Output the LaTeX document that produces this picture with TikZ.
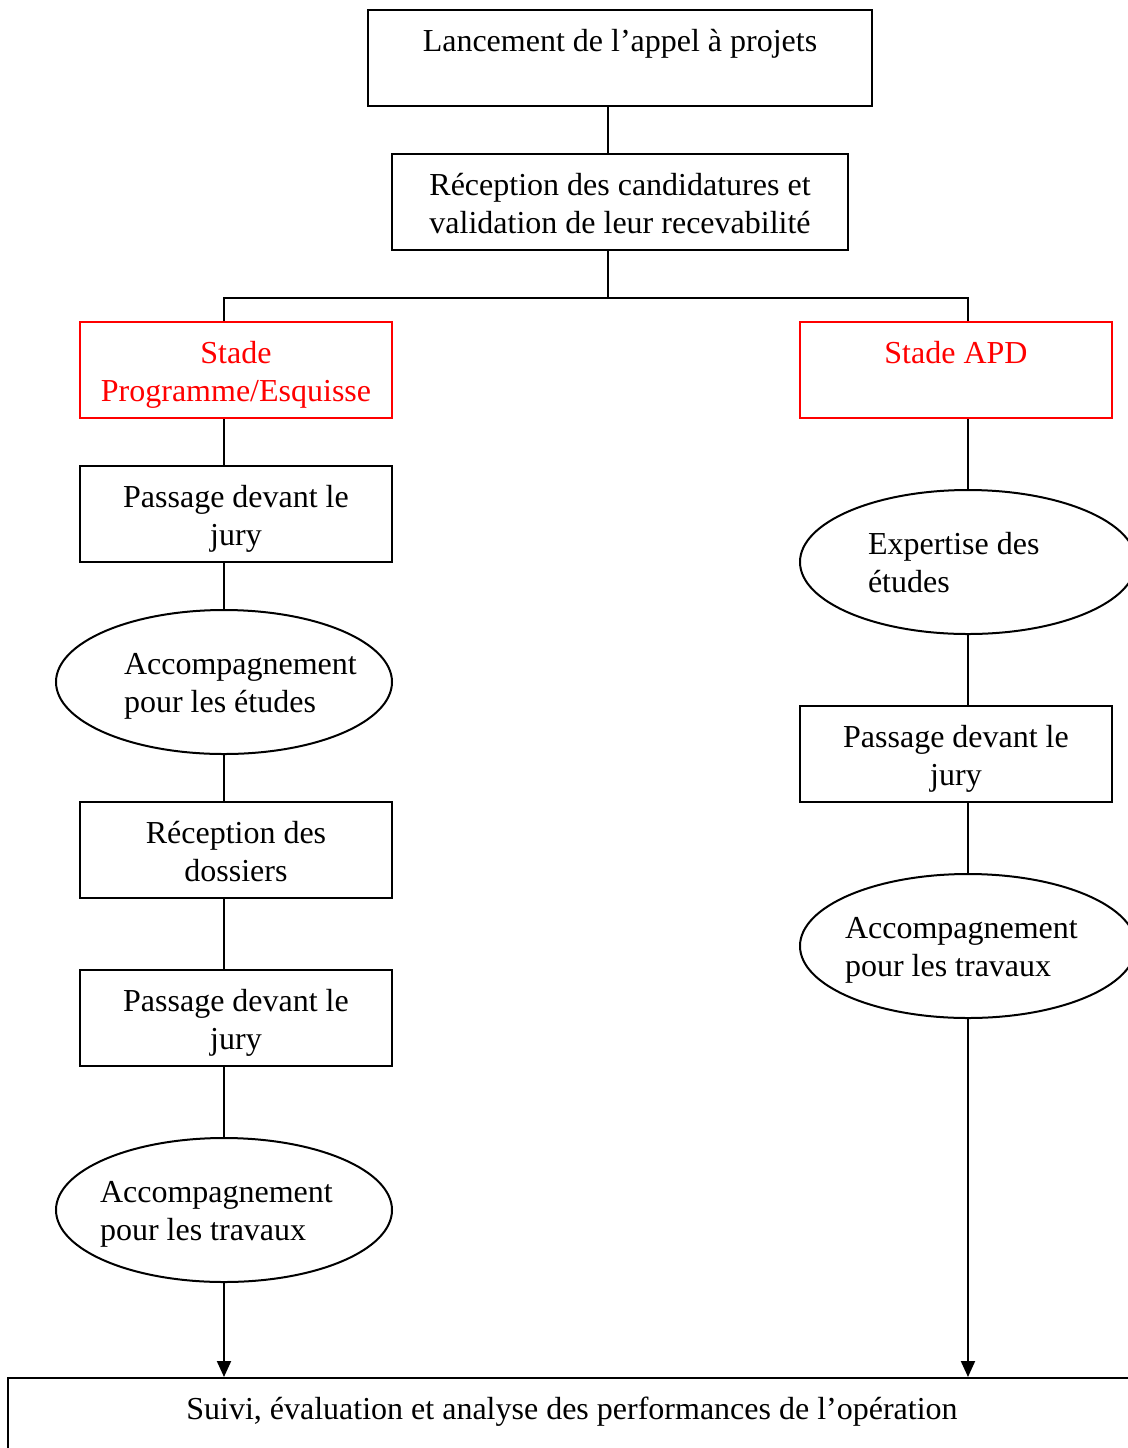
\documentclass[tikz,border=0pt]{standalone}
\usepackage{fontspec}
\setmainfont{Liberation Serif}
\usetikzlibrary{arrows.meta, shapes.geometric}

\begin{document}
\begin{tikzpicture}[x=0.5pt,y=-0.5pt,>={Triangle[width=7pt,length=8pt]},
  line width=1pt,node distance=96pt,
  every node/.style={font=\fontsize{16pt}{19pt}\selectfont, execute at end node=\strut},
  box node/.style={rectangle,draw,minimum width=156pt,minimum height=48pt,text width=150pt,
    align=flush center,inner sep=0pt,execute at begin node={\rule{0pt}{17.8pt}}},
  stage node/.style={box node,draw=red,text=red},
  oval node/.style={ellipse,draw,minimum width=168pt,minimum height=72pt,inner xsep=-20pt,align=flush left,
    execute at begin node={\rule{0pt}{16.8pt}}}]
  \useasboundingbox (0,0) rectangle (1128,1448);
  \clip (0,0) rectangle (1128,1448);

  \node[box node, minimum width=252pt, text width=246pt] (1) at (620,58) {Lancement de l’appel à projets\\};
  \node[box node, minimum width=228pt, text width=222pt] (2) at (620,202) {Réception des candidatures et\\validation de leur recevabilité};
  \node[stage node] (3) at (236,370) {Stade\\Programme/Esquisse};
  \node[stage node] (4) at (956,370) {Stade APD\\};

  % left branch
  \node[box node] (5) [node distance=72pt, below of=3] {Passage devant le\\jury};
  \node[oval node, text width=100pt] (6) [node distance=84pt, below of=5, xshift=-6pt] {Accompagnement\\pour les études};
  \node[box node] (7) [node distance=84pt, below of=6, xshift=6pt] {Réception des\\dossiers};
  \node[box node] (8) [node distance=84pt, below of=7] {Passage devant le\\jury};
  \node[oval node, text width=124pt] (9) [below of=8, xshift=-6pt] {Accompagnement\\pour les travaux};

  % right branch
  \node[oval node, text width=100pt] (10) [below of=4, xshift=6pt] {Expertise des\\études};
  \node[box node] (11) [below of=10, xshift=-6pt] {Passage devant le\\jury};
  \node[oval node, text width=123pt] (12) [below of=11, xshift=6pt] {Accompagnement\\pour les travaux};

  \node[box node, minimum width=564pt, text width=558pt] (13) at (572,1426) {Suivi, évaluation et analyse des performances de l’opération\\};

  \coordinate (t) at (608,298);
  \path (1.south -| t) edge (2.north -| t)
        (2.south -| t) edge (t);
  \draw (3.north -| 6) |- (t) -| (4.north -| 10);
  \foreach \a/\b in {3/5,5/6,6/7,7/8,8/9}
    \draw (\a.south -| 6) -- (\b.north -| 6);
  \foreach \a/\b in {4/10,10/11,11/12}
    \draw (\a.south -| 10) -- (\b.north -| 10);
  \draw[->] (9) -- (9 |- 13.north);
  \draw[->] (12) -- (12 |- 13.north);
\end{tikzpicture}
\end{document}
